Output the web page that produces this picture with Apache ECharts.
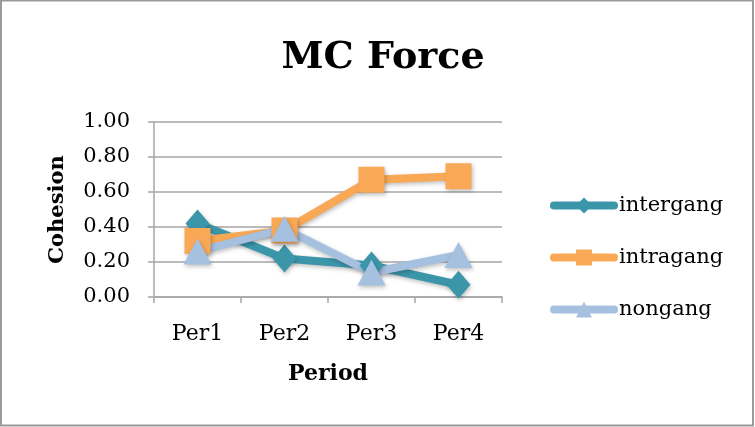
<!DOCTYPE html>
<html>
<head>
<meta charset="utf-8">
<script src="https://cdn.jsdelivr.net/npm/echarts@6/dist/echarts.min.js"></script>
<style>
  html, body { margin: 0; padding: 0; background: #fff; }
  #chart { width: 755px; height: 427px; }
</style>
</head>
<body>
<div id="chart"></div>
<script>
// Cohesion by period for the MC Force groups
const periods = ['Per1', 'Per2', 'Per3', 'Per4'];
const intergang = [0.42, 0.22, 0.18, 0.07];
const intragang = [0.32, 0.38, 0.67, 0.69];
const nongang = [0.26, 0.39, 0.14, 0.24];
const yTicks = { min: 0, max: 1, interval: 0.2 };

const FONT = '"DejaVu Serif", serif';
const GRID_COLOR = '#a6a6a6';

const shadow = {
  shadowBlur: 4,
  shadowOffsetX: 1,
  shadowOffsetY: 2,
  shadowColor: 'rgba(0,0,0,0.25)'
};

function lineSeries(name, data, color, symbol, symbolSize) {
  return {
    name: name,
    type: 'line',
    data: data,
    symbol: symbol,
    symbolSize: symbolSize,
    showSymbol: true,
    lineStyle: Object.assign({ color: color, width: 8, cap: 'round', join: 'round' }, shadow),
    itemStyle: Object.assign({ color: color, borderWidth: 0 }, shadow),
    emphasis: { disabled: true },
    animation: false
  };
}

const chart = echarts.init(document.getElementById('chart'), null, { renderer: 'canvas' });

chart.setOption({
  backgroundColor: '#fff',
  animation: false,
  title: {
    text: 'MC Force',
    left: 378,
    textAlign: 'center',
    top: 34,
    textStyle: { fontFamily: FONT, fontWeight: 'bold', fontSize: 38, color: '#000' }
  },
  graphic: [{
    type: 'rect',
    shape: { x: 1, y: 0.5, width: 752, height: 425 },
    style: { fill: 'none', stroke: '#9a9a9a', lineWidth: 2 },
    silent: true
  }],
  legend: {
    orient: 'vertical',
    left: 545,
    top: 190,
    itemWidth: 60,
    itemHeight: 20,
    itemGap: 31,
    selectedMode: false,
    lineStyle: { width: 8, cap: 'round', shadowBlur: 0, shadowOffsetX: 0, shadowOffsetY: 0 },
    itemStyle: { shadowBlur: 0, shadowOffsetX: 0, shadowOffsetY: 0 },
    textStyle: { fontFamily: FONT, fontSize: 21, color: '#000' },
    data: ['intergang', 'intragang', 'nongang']
  },
  grid: { left: 154, right: 253, top: 122, bottom: 130, containLabel: false },
  xAxis: {
    type: 'category',
    data: periods,
    boundaryGap: true,
    name: 'Period',
    nameLocation: 'middle',
    nameGap: 66,
    nameTextStyle: { fontFamily: FONT, fontWeight: 'bold', fontSize: 22, color: '#000' },
    axisLine: { show: true, lineStyle: { color: GRID_COLOR, width: 1.5 } },
    axisTick: { show: true, alignWithLabel: false, length: 6, lineStyle: { color: GRID_COLOR, width: 1.5 } },
    axisLabel: { fontFamily: FONT, fontSize: 22, color: '#000', margin: 26 },
    splitLine: { show: false }
  },
  yAxis: {
    type: 'value',
    min: yTicks.min,
    max: yTicks.max,
    interval: yTicks.interval,
    name: 'Cohesion',
    nameLocation: 'middle',
    nameGap: 86,
    nameRotate: 90,
    nameTextStyle: { fontFamily: FONT, fontWeight: 'bold', fontSize: 21, color: '#000' },
    axisLine: { show: true, lineStyle: { color: GRID_COLOR, width: 1.5 } },
    axisTick: { show: true, inside: false, length: 6, lineStyle: { color: GRID_COLOR, width: 1.5 } },
    axisLabel: {
      fontFamily: FONT, fontSize: 21, color: '#000', margin: 24,
      formatter: v => v.toFixed(2)
    },
    splitLine: { show: true, lineStyle: { color: GRID_COLOR, width: 1.5 } }
  },
  series: [
    lineSeries('intergang', intergang, '#3c96aa', 'diamond', [24, 28]),
    lineSeries('intragang', intragang, '#f9a856', 'rect', [26, 26]),
    lineSeries('nongang', nongang, '#a6c0e0', 'triangle', [28, 26])
  ]
});
</script>
</body>
</html>
